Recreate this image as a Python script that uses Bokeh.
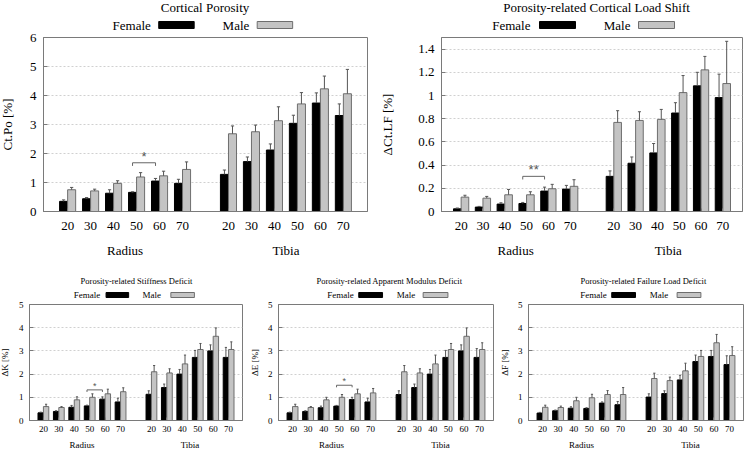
from bokeh.plotting import figure
from bokeh.models import Range1d, FactorRange, FixedTicker, ColumnDataSource
from bokeh.transform import dodge
from bokeh.layouts import row, column
from bokeh.embed import file_html
from bokeh.resources import INLINE

# ---------------- data ----------------
AGES = ["20", "30", "40", "50", "60", "70"]
SITES = ["Radius", "Tibia"]
SEXES = ["Female", "Male"]

# Cortical porosity Ct.Po [%]  (radius 20..70, tibia 20..70)
ctpo_female = [0.35, 0.44, 0.63, 0.66, 1.05, 0.97, 1.28, 1.72, 2.12, 3.04, 3.74, 3.31]
ctpo_female_sd = [0.05, 0.04, 0.12, 0.02, 0.09, 0.14, 0.15, 0.16, 0.21, 0.28, 0.35, 0.40]
ctpo_male = [0.75, 0.71, 0.97, 1.19, 1.23, 1.45, 2.68, 2.75, 3.13, 3.71, 4.23, 4.06]
ctpo_male_sd = [0.08, 0.06, 0.09, 0.15, 0.16, 0.26, 0.27, 0.23, 0.48, 0.39, 0.44, 0.84]

# Porosity-related cortical load shift dCt.LF [%]
ctlf_female = [0.023, 0.038, 0.064, 0.069, 0.176, 0.193, 0.303, 0.416, 0.505, 0.849, 1.083, 0.982]
ctlf_female_sd = [0.007, 0.006, 0.011, 0.009, 0.034, 0.032, 0.047, 0.054, 0.081, 0.089, 0.117, 0.202]
ctlf_male = [0.124, 0.115, 0.144, 0.144, 0.196, 0.217, 0.768, 0.785, 0.794, 1.025, 1.221, 1.103]
ctlf_male_sd = [0.016, 0.015, 0.046, 0.026, 0.038, 0.057, 0.101, 0.075, 0.086, 0.147, 0.116, 0.364]

# Porosity-related stiffness deficit dK [%]
k_female = [0.33, 0.39, 0.57, 0.63, 0.92, 0.80, 1.13, 1.42, 2.00, 2.72, 3.00, 2.72]
k_female_sd = [0.03, 0.03, 0.08, 0.03, 0.10, 0.16, 0.15, 0.15, 0.20, 0.30, 0.26, 0.43]
k_male = [0.60, 0.56, 0.89, 1.00, 1.15, 1.24, 2.10, 2.05, 2.44, 3.06, 3.63, 3.06]
k_male_sd = [0.10, 0.04, 0.13, 0.15, 0.20, 0.17, 0.27, 0.18, 0.38, 0.26, 0.36, 0.33]

# Porosity-related apparent modulus deficit dE [%]
e_female = [0.33, 0.39, 0.55, 0.62, 0.90, 0.80, 1.12, 1.42, 2.00, 2.72, 3.00, 2.72]
e_female_sd = [0.03, 0.03, 0.07, 0.03, 0.10, 0.16, 0.16, 0.15, 0.20, 0.30, 0.26, 0.38]
e_male = [0.60, 0.56, 0.89, 1.00, 1.15, 1.19, 2.10, 2.05, 2.44, 3.06, 3.63, 3.06]
e_male_sd = [0.10, 0.04, 0.11, 0.12, 0.20, 0.19, 0.27, 0.18, 0.38, 0.26, 0.36, 0.29]

# Porosity-related failure load deficit dF [%]
f_female = [0.32, 0.42, 0.53, 0.52, 0.75, 0.68, 1.01, 1.16, 1.75, 2.54, 2.76, 2.41]
f_female_sd = [0.03, 0.03, 0.06, 0.03, 0.05, 0.14, 0.14, 0.12, 0.20, 0.28, 0.26, 0.38]
f_male = [0.57, 0.56, 0.85, 0.98, 1.12, 1.12, 1.81, 1.72, 2.14, 2.76, 3.35, 2.80]
f_male_sd = [0.09, 0.06, 0.15, 0.15, 0.17, 0.30, 0.23, 0.15, 0.33, 0.26, 0.36, 0.38]

# significance brackets: (site, age from, age to, bracket level, label)
ctpo_sig = ("Radius", "50", "60", 1.68, "*")
ctlf_sig = ("Radius", "50", "60", 0.303, "**")
k_sig = ("Radius", "50", "60", 1.32, "*")
e_sig = ("Radius", "50", "60", 1.52, "*")

# ---------------- style ----------------
SERIF = "Liberation Serif"
FEMALE_COLOR = "black"
MALE_COLOR = "#c4c4c4"
MALE_LINE = "#6e6e6e"
FRAME = "#7a7a7a"
GRID = "#d0d0d0"
WHISKER = "#555555"
BAR_W = 0.35
CAP = 0.07
OFF = BAR_W / 2

FACTORS = [(s, a) for s in SITES for a in AGES]


def header(cfg):
    """Title and legend strip above a panel (pixel coordinates of the strip)."""
    W, hh = cfg["hsize"]
    bl, br = cfg["borders"][0], cfg["borders"][1]
    fs = cfg["fs"]
    # the strip's frame is aligned with the panel frame below it, so map x to strip pixels
    h = figure(width=W, height=hh, output_backend="svg", toolbar_location=None,
               x_range=Range1d(bl, W - br), y_range=Range1d(hh, 0),
               x_axis_location=None, y_axis_location=None,
               min_border_left=bl, min_border_right=br, min_border_top=0, min_border_bottom=0)
    h.grid.visible = False
    h.outline_line_color = None
    h.text(x=[cfg["title_x"]], y=[cfg["title_y"]], text=[cfg["title"]], text_align="center",
           text_baseline="middle", text_font_size=f"{cfg['tfs']}px", text_color="black",
           text_font={"value": SERIF})
    lg = cfg["legend"]
    y, hh2 = lg["y"], lg["gh"] / 2
    h.text(x=[lg["f_end"], lg["m_end"]], y=[y, y], text=SEXES, text_align="right",
           text_baseline="middle", text_font_size=f"{fs}px", text_color="black",
           text_font={"value": SERIF})
    h.quad(left=[lg["f_box"][0]], right=[lg["f_box"][1]], top=[y - hh2], bottom=[y + hh2],
           fill_color=FEMALE_COLOR, line_color=FEMALE_COLOR)
    h.quad(left=[lg["m_box"][0]], right=[lg["m_box"][1]], top=[y - hh2], bottom=[y + hh2],
           fill_color=MALE_COLOR, line_color=MALE_LINE)
    return h


def make_panel(cfg):
    W, H = cfg["size"]
    bl, br, bt, bb = cfg["borders"]
    fs = cfg["fs"]
    rp = cfg["rpad"]

    p = figure(width=W, height=H, output_backend="svg", toolbar_location=None,
               x_range=FactorRange(factors=FACTORS, factor_padding=0, group_padding=1.0,
                                   range_padding=rp, range_padding_units="absolute"),
               y_range=Range1d(0, cfg["ymax"]),
               min_border_left=bl, min_border_right=br, min_border_top=bt, min_border_bottom=bb)
    p.outline_line_color = FRAME
    p.xgrid.visible = False
    p.ygrid.grid_line_color = GRID
    p.ygrid.grid_line_dash = "2 2"

    xa = p.xaxis[0]
    xa.major_tick_in = 3
    xa.major_tick_out = 0
    xa.minor_tick_line_color = None
    xa.axis_line_color = FRAME
    xa.major_tick_line_color = FRAME
    xa.major_label_text_font = SERIF
    xa.major_label_text_font_size = f"{fs}px"
    xa.major_label_text_color = "black"
    xa.major_label_standoff = cfg["xstand"]
    xa.group_text_font = SERIF
    xa.group_text_font_size = f"{fs}px"
    xa.group_text_font_style = "normal"
    xa.group_text_color = "black"
    xa.separator_line_color = None

    ya = p.yaxis[0]
    ya.ticker = FixedTicker(ticks=cfg["yticks"])
    ya.major_label_overrides = {t: l for t, l in zip(cfg["yticks"], cfg["ylabels"])}
    ya.major_tick_in = 4
    ya.major_tick_out = 0
    ya.minor_tick_line_color = None
    ya.axis_line_color = FRAME
    ya.major_tick_line_color = FRAME
    ya.major_label_text_font = SERIF
    ya.major_label_text_font_size = f"{fs}px"
    ya.major_label_text_color = "black"
    ya.major_label_standoff = cfg["ystand"]
    ya.axis_label = cfg["ylab"]
    ya.axis_label_text_font = SERIF
    ya.axis_label_text_font_style = "normal"
    ya.axis_label_text_font_size = f"{fs}px"
    ya.axis_label_text_color = "black"
    ya.axis_label_standoff = cfg["ylabstand"]

    fem, fem_sd, mal, mal_sd = cfg["data"]
    src = ColumnDataSource(dict(
        x=FACTORS, fem=fem, mal=mal,
        fem_up=[a + b for a, b in zip(fem, fem_sd)],
        mal_up=[a + b for a, b in zip(mal, mal_sd)],
    ))
    rng = p.x_range
    p.vbar(x=dodge("x", -OFF, range=rng), top="fem", width=BAR_W, source=src,
           fill_color=FEMALE_COLOR, line_color=FEMALE_COLOR, line_width=1)
    p.vbar(x=dodge("x", OFF, range=rng), top="mal", width=BAR_W, source=src,
           fill_color=MALE_COLOR, line_color=MALE_LINE, line_width=1)
    for off, val, up in ((-OFF, "fem", "fem_up"), (OFF, "mal", "mal_up")):
        p.segment(x0=dodge("x", off, range=rng), y0=val, x1=dodge("x", off, range=rng), y1=up,
                  source=src, line_color=WHISKER, line_width=1)
        p.segment(x0=dodge("x", off - CAP, range=rng), y0=up, x1=dodge("x", off + CAP, range=rng),
                  y1=up, source=src, line_color=WHISKER, line_width=1)

    if cfg.get("sig"):
        site, a0, a1, lvl, lab = cfg["sig"]
        d = cfg["ymax"] * 0.018
        bsrc = ColumnDataSource(dict(a=[(site, a0)], b=[(site, a1)], lvl=[lvl], low=[lvl - d], t=[lab]))
        p.segment(x0=dodge("a", -OFF, range=rng), x1=dodge("b", -OFF, range=rng), y0="lvl", y1="lvl",
                  source=bsrc, line_color="#666666", line_width=1)
        p.segment(x0=dodge("a", -OFF, range=rng), x1=dodge("a", -OFF, range=rng), y0="low", y1="lvl",
                  source=bsrc, line_color="#666666", line_width=1)
        p.segment(x0=dodge("b", -OFF, range=rng), x1=dodge("b", -OFF, range=rng), y0="low", y1="lvl",
                  source=bsrc, line_color="#666666", line_width=1)
        p.text(x=dodge("a", 0.5 - OFF, range=rng), y="lvl", text="t", source=bsrc,
               text_align="center", text_baseline="bottom",
               text_font_size=f"{fs}px", text_color="#555555", y_offset=1)
    return column(header(cfg), p, spacing=0)


p1 = make_panel(dict(
    hsize=(378, 35), size=(378, 234), borders=(42, 7, 6, 54), rpad=0.55,
    fs=13, tfs=13, ymax=6, yticks=[0, 1, 2, 3, 4, 5, 6], ylabels=["0", "1", "2", "3", "4", "5", "6"],
    xstand=10, ystand=7, ylab="Ct.Po [%]", ylabstand=12,
    data=(ctpo_female, ctpo_female_sd, ctpo_male, ctpo_male_sd), sig=ctpo_sig,
    title="Cortical Porosity", title_x=206, title_y=10.5,
    legend=dict(y=28.5, gh=7, f_end=151, f_box=(159, 195), m_end=251, m_box=(259, 295)),
))

p2 = make_panel(dict(
    hsize=(377, 35), size=(377, 234), borders=(67, 9, 6, 54), rpad=0.4,
    fs=13, tfs=13, ymax=1.5, yticks=[0, 0.2, 0.4, 0.6, 0.8, 1.0, 1.2, 1.4],
    ylabels=["0", "0.2", "0.4", "0.6", "0.8", "1", "1.2", "1.4"],
    xstand=10, ystand=7, ylab="\u0394Ct.LF [%]", ylabstand=20,
    data=(ctlf_female, ctlf_female_sd, ctlf_male, ctlf_male_sd), sig=ctlf_sig,
    title="Porosity-related Cortical Load Shift", title_x=222, title_y=10.5,
    legend=dict(y=28.5, gh=7, f_end=156, f_box=(165, 201), m_end=256, m_box=(264, 300)),
))

YT5 = [0, 1, 2, 3, 4, 5]
YL5 = ["0", "1", "2", "3", "4", "5"]

p3 = make_panel(dict(
    hsize=(250, 34), size=(250, 156), borders=(29, 4, 5, 35), rpad=0.4,
    fs=9, tfs=8.5, ymax=5, yticks=YT5, ylabels=YL5,
    xstand=5, ystand=6, ylab="\u0394K [%]", ylabstand=6,
    data=(k_female, k_female_sd, k_male, k_male_sd), sig=k_sig,
    title="Porosity-related Stiffness Deficit", title_x=138, title_y=15,
    legend=dict(y=29.5, gh=5, f_end=101, f_box=(107, 130), m_end=163, m_box=(173, 197)),
))

p4 = make_panel(dict(
    hsize=(250, 34), size=(250, 156), borders=(30, 3, 5, 35), rpad=0.4,
    fs=9, tfs=8.5, ymax=5, yticks=YT5, ylabels=YL5,
    xstand=5, ystand=6, ylab="\u0394E [%]", ylabstand=5,
    data=(e_female, e_female_sd, e_male, e_male_sd), sig=e_sig,
    title="Porosity-related Apparent Modulus Deficit", title_x=142, title_y=15,
    legend=dict(y=29.5, gh=5, f_end=106, f_box=(111, 135), m_end=168, m_box=(176, 201)),
))

p5 = make_panel(dict(
    hsize=(255, 34), size=(255, 156), borders=(30, 8, 5, 35), rpad=0.4,
    fs=9, tfs=8.5, ymax=5, yticks=YT5, ylabels=YL5,
    xstand=5, ystand=6, ylab="\u0394F [%]", ylabstand=5,
    data=(f_female, f_female_sd, f_male, f_male_sd), sig=None,
    title="Porosity-related Failure Load Deficit", title_x=146, title_y=15,
    legend=dict(y=29.5, gh=5, f_end=109, f_box=(114, 138), m_end=171, m_box=(180, 204)),
))

layout = column(row(p1, p2, spacing=0), row(p3, p4, p5, spacing=0), spacing=0,
                margin=(-4, -4, -12, -4))

open("out.html", "w").write(file_html(layout, INLINE))
